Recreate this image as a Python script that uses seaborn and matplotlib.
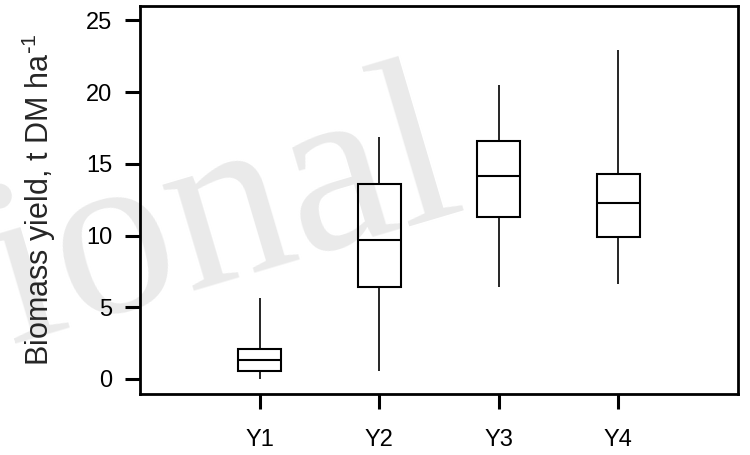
import numpy as np
import pandas as pd
import matplotlib
matplotlib.use("Agg")
import matplotlib.pyplot as plt
import seaborn as sns

# Data (five-number summaries)
categories = ["Y1", "Y2", "Y3", "Y4"]
whisker_low = [0.0, 0.58, 6.4, 6.6]
q1 = [0.58, 6.41, 11.3, 9.91]
median = [1.32, 9.68, 14.18, 12.26]
q3 = [2.09, 13.58, 16.57, 14.28]
whisker_high = [5.66, 16.9, 20.47, 22.96]
y_ticks = [0, 5, 10, 15, 20, 25]
y_label = "Biomass yield, t DM ha$^{\\mathregular{\\text{-}1}}$"
watermark = "ional"

rows = []
for i, c in enumerate(categories):
    for v in (whisker_low[i], q1[i], median[i], q3[i], whisker_high[i]):
        rows.append({"Year": c, "Yield": v})
df = pd.DataFrame(rows)

sns.set_theme(style="white")
plt.rcParams["font.family"] = ["Liberation Sans", "DejaVu Sans"]

fig = plt.figure(figsize=(7.5, 4.55), dpi=100)
ax = fig.add_axes([140 / 750, 1 - 394 / 455, 598 / 750, 388 / 455])
ax.set_zorder(1)
ax.patch.set_alpha(0)

# watermark (behind everything)
fig.text(10 / 750, 1 - 343 / 455, watermark, fontsize=172, family="Liberation Serif",
         color="#eaeaea", rotation=16.5, rotation_mode="anchor", ha="left", va="baseline",
         zorder=-5)

sns.boxplot(data=df, x="Year", y="Yield", order=categories, ax=ax, whis=(0, 100),
            width=0.36, color="white", linecolor="black", linewidth=1.5,
            showcaps=False, fliersize=0,
            whiskerprops={"linewidth": 1.2},
            medianprops={"linewidth": 1.5})
for p in ax.patches:
    p.set_facecolor((1, 1, 1, 0))

ax.set_xlim(-1, 4)
ax.set_ylim(-1.05, 26)
ax.set_yticks(y_ticks)
ax.set_xlabel("")
ax.set_ylabel(y_label, fontsize=22, labelpad=20)
for s in ax.spines.values():
    s.set_visible(True)
    s.set_color("black")
    s.set_linewidth(2.0)
ax.tick_params(axis="both", which="major", direction="out", length=11, width=2.2,
               color="black", labelsize=17, labelcolor="black", left=True, bottom=True)
ax.tick_params(axis="y", pad=9)
ax.tick_params(axis="x", pad=14)

fig.savefig("out.png", dpi=100)
